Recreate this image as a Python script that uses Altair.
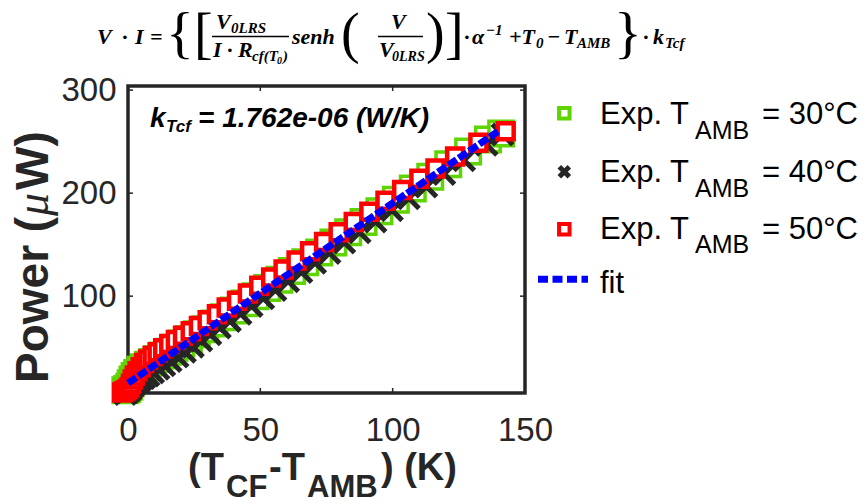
import altair as alt
import pandas as pd

# ---------------- data ----------------
grn_dt = [-1.0, -0.3, 0.5, 1.0, 1.7, 2.5, 3.5, 4.7, 6.0, 7.5, 9.2, 11.0, 13.0, 15.2, 17.6, 20.2,
          23.0, 26.0, 29.2, 32.6, 36.2, 40.0, 44.0, 48.2, 52.6, 57.2, 62.0, 67.0, 72.2,
          77.6, 83.2, 89.0, 95.0, 101.2, 107.6, 114.2, 121.0, 128.5, 136.0, 141.0]
grn_p = [8.7, 10.0, 12.0, 15.5, 19.0, 22.5, 25.5, 28.5, 31.0, 33.5, 36.0, 39.0, 42.5, 46.0, 50.0, 54.0,
         58.5, 63.0, 68.0, 73.5, 79.5, 86.0, 93.0, 100.0, 108.0, 116.0, 124.5, 133.0, 142.5,
         152.0, 162.0, 172.0, 182.5, 193.5, 204.5, 216.0, 228.0, 240.5, 252.0, 258.0]

blk_dt = [-1.0, 0.0, 0.9, 1.6, 2.5, 3.5, 4.7, 6.1, 7.7, 9.5, 11.5, 13.7, 16.1, 18.7, 21.5, 24.5,
          27.7, 31.1, 34.7, 38.5, 42.5, 46.7, 51.1, 55.7, 60.5, 65.5, 70.7, 76.1, 81.7,
          87.5, 93.5, 99.7, 106.1, 112.7, 119.5, 127.0, 135.5, 141.5]
blk_p = [5.0, 7.0, 9.0, 11.5, 14.0, 16.5, 18.5, 20.5, 23.0, 26.0, 29.5, 33.0, 37.0, 41.5, 46.0, 51.0,
         57.0, 63.0, 69.5, 76.0, 83.0, 90.5, 98.0, 106.0, 114.5, 123.5, 132.5, 142.0, 152.0,
         162.0, 172.5, 183.5, 195.0, 206.5, 218.5, 232.0, 247.0, 257.0]

red_dt = [-2.2, -1.5, -0.8, 0.0, 0.6, 1.1, 1.8, 2.6, 3.6, 4.8, 6.1, 7.6, 9.3, 11.2, 13.3, 15.6,
          18.1, 20.8, 23.7, 26.8, 30.1, 33.6, 37.3, 41.2, 45.3, 49.6, 54.1, 58.8, 63.7,
          68.8, 74.1, 79.6, 85.3, 91.2, 97.3, 103.6, 110.1, 116.2, 123.6, 132.4, 142.7]
red_p = [6.5, 7.5, 8.5, 10.0, 11.5, 15.0, 19.0, 23.0, 27.0, 31.0, 35.0, 38.5, 42.0, 45.5, 49.5, 53.5,
         57.5, 61.5, 66.0, 71.0, 76.5, 82.5, 89.0, 95.5, 102.5, 110.0, 118.0, 126.0, 134.5,
         143.5, 152.5, 162.0, 172.0, 182.0, 192.5, 203.0, 214.0, 224.0, 235.5, 249.0, 260.0]

fit_dt = [0.0, 140.4]
fit_p = [15.5, 261.0]

x_ticks = [0, 50, 100, 150]
y_ticks = [100, 200, 300]
x_inner_ticks = [50, 100]

series_names = ["Exp. T", "Exp. T", "Exp. T"]
series_subs = ["AMB", "AMB", "AMB"]
series_tail = ["= 30°C", "= 40°C", "= 50°C"]
fit_name = "fit"
k_text = ["k", "Tcf", "= 1.762e-06 (W/K)"]

# ---------------- layout constants ----------------
W, H = 397, 307
X0, Y0 = 128, 86          # plot-area origin in the page
SANS = "Liberation Sans"
SERIF = "Liberation Serif"
INK = "#262626"
GREEN = "#5ED400"
RED = "#FF0000"
BLUE = "#0000FF"

xs = alt.Scale(domain=[0, 150], nice=False, zero=False)
ys = alt.Scale(domain=[6, 304], nice=False, zero=False)

XMARK = "M-1,-1L1,1M-1,1L1,-1"


def df(xv, yv):
    return pd.DataFrame({"x": xv, "y": yv})


def txt(s, x, y, size, weight="normal", style="normal", font=SANS, angle=0,
        baseline="alphabetic", color="black", align="left"):
    return alt.Chart(pd.DataFrame({"s": [s]})).mark_text(
        align=align, baseline=baseline, font=font, fontSize=size,
        fontWeight=weight, fontStyle=style, angle=angle, color=color
    ).encode(x=alt.value(x - X0), y=alt.value(y - Y0), text="s:N")


def hrule(x1, x2, y, width=1.5, color="black", dash=None):
    kw = dict(strokeWidth=width, color=color)
    if dash:
        kw["strokeDash"] = dash
    return alt.Chart(pd.DataFrame({"a": [0]})).mark_rule(**kw).encode(
        x=alt.value(x1 - X0), x2=alt.value(x2 - X0), y=alt.value(y - Y0))


xaxis = alt.Axis(values=x_ticks, title=None, ticks=False, domain=False, grid=False,
                 labelFont=SANS, labelFontSize=33, labelColor=INK, labelPadding=21,
                 labelFlush=False)
yaxis = alt.Axis(values=y_ticks, title=None, ticks=False, domain=False, grid=False,
                 labelFont=SANS, labelFontSize=33, labelColor=INK, labelPadding=12,
                 labelBaseline="middle")

base_x = alt.X("x:Q", scale=xs, axis=xaxis)
base_y = alt.Y("y:Q", scale=ys, axis=yaxis)

green = alt.Chart(df(grn_dt, grn_p)).mark_point(
    shape="square", size=600, filled=False, fill="white", fillOpacity=1,
    stroke=GREEN, strokeWidth=3.5, opacity=1).encode(x=base_x, y=base_y)

black = alt.Chart(df(blk_dt, blk_p)).mark_point(
    shape=XMARK, size=420, filled=False, stroke=INK, strokeWidth=5, opacity=1
).encode(x=alt.X("x:Q", scale=xs), y=alt.Y("y:Q", scale=ys))

red = alt.Chart(df(red_dt, red_p)).mark_point(
    shape="square", size=256, filled=False, fill="white", fillOpacity=1,
    stroke=RED, strokeWidth=4.5, opacity=1
).encode(x=alt.X("x:Q", scale=xs), y=alt.Y("y:Q", scale=ys))

fit = alt.Chart(df(fit_dt, fit_p)).mark_line(
    color=BLUE, strokeWidth=7, strokeDash=[10, 2.5], strokeCap="butt"
).encode(x=alt.X("x:Q", scale=xs), y=alt.Y("y:Q", scale=ys))

# inward ticks on all four sides
tk_top = alt.Chart(pd.DataFrame({"x": x_inner_ticks})).mark_rule(color=INK, strokeWidth=1.5).encode(
    x=alt.X("x:Q", scale=xs), y=alt.value(0), y2=alt.value(5))
tk_bot = alt.Chart(pd.DataFrame({"x": x_inner_ticks})).mark_rule(color=INK, strokeWidth=1.5).encode(
    x=alt.X("x:Q", scale=xs), y=alt.value(H - 5), y2=alt.value(H))
tk_left = alt.Chart(pd.DataFrame({"y": y_ticks})).mark_rule(color=INK, strokeWidth=1.5).encode(
    y=alt.Y("y:Q", scale=ys), x=alt.value(0), x2=alt.value(5))
tk_right = alt.Chart(pd.DataFrame({"y": y_ticks})).mark_rule(color=INK, strokeWidth=1.5).encode(
    y=alt.Y("y:Q", scale=ys), x=alt.value(W - 5), x2=alt.value(W))

layers = [green, black, red, fit, tk_top, tk_bot, tk_left, tk_right]

# annotation inside the axes
layers += [
    txt(k_text[0], 150, 127, 28, "bold", "italic"),
    txt(k_text[1], 166, 132, 17, "bold", "italic"),
    txt(k_text[2], 198, 127, 28, "bold", "italic"),
]

# x-axis title with subscripts
layers += [
    txt("(T", 188, 480, 38, "bold", color=INK),
    txt("CF", 226, 497, 31, "bold", color=INK),
    txt("-T", 269, 480, 38, "bold", color=INK),
    txt("AMB", 307, 497, 31, "bold", color=INK),
    txt(") (K)", 381, 480, 38, "bold", color=INK),
]

# y-axis title (rotated)
layers += [
    txt("Power (", 34, 383, 46, "bold", angle=270, baseline="middle", color=INK),
    txt("μ", 34, 216, 46, "normal", "italic", font=SERIF, angle=270, baseline="middle", color=INK),
    txt("W)", 34, 190, 46, "bold", angle=270, baseline="middle", color=INK),
]

# legend
row_mark_y = [113.3, 171.7, 229.3]
row_base = [124.0, 182.0, 238.5]
leg_rows = [(GREEN, "square"), (INK, XMARK), (RED, "square")]
for i in range(3):
    col, shp = leg_rows[i]
    if shp == "square":
        mk = alt.Chart(pd.DataFrame({"a": [0]})).mark_point(
            shape="square", size=110, filled=False, fill="white", fillOpacity=1,
            stroke=col, strokeWidth=4, opacity=1)
    else:
        mk = alt.Chart(pd.DataFrame({"a": [0]})).mark_point(
            shape=XMARK, size=100, filled=False, stroke=col, strokeWidth=5, opacity=1)
    layers.append(mk.encode(x=alt.value(564.3 - X0), y=alt.value(row_mark_y[i] - Y0)))
    layers.append(txt(series_names[i], 600, row_base[i], 31))
    layers.append(txt(series_subs[i], 695, row_base[i] + 14.5, 25))
    layers.append(txt(series_tail[i], 762, row_base[i], 31))
layers.append(hrule(538, 588, 279.3, width=7, color=BLUE, dash=[10, 4.5]))
layers.append(txt(fit_name, 600, 293, 31))

# equation on top
EQ = 22
SUB = 15
BI = dict(weight="bold", style="italic", font=SERIF)
layers += [
    txt("V", 97, 44, EQ, **BI),
    txt("·", 122, 44, EQ, **BI),
    txt("I", 135, 44, EQ, **BI),
    txt("=", 150, 44, EQ, **BI),
    txt("{", 166, 52, 58, font=SERIF),
    txt("[", 194, 52, 56, font=SERIF),
    txt("V", 216, 29, EQ, **BI),
    txt("0LRS", 231, 33, SUB, **BI),
    hrule(212, 289, 36.5),
    txt("I · R", 213, 57, EQ, **BI),
    txt("cf(T", 252, 61, SUB, **BI),
    txt("0", 277, 64, 10, **BI),
    txt(")", 283, 61, SUB, **BI),
    txt("senh", 292, 44, EQ, **BI),
    txt("(", 341, 52, 56, font=SERIF),
    txt("V", 391, 29, EQ, **BI),
    hrule(378, 423, 36.5),
    txt("V", 379, 57, EQ, **BI),
    txt("0LRS", 392, 61, 14, **BI),
    txt(")", 426, 52, 56, font=SERIF),
    txt("]", 445, 52, 56, font=SERIF),
    txt("·", 464, 44, EQ, **BI),
    txt("α", 472, 44, EQ, **BI),
    txt("−1", 486, 35, SUB, **BI),
    txt("+T", 509, 44, EQ, **BI),
    txt("0", 536, 48, SUB, **BI),
    txt("−", 547, 44, EQ, **BI),
    txt("T", 564, 44, EQ, **BI),
    txt("AMB", 577, 48, SUB, **BI),
    txt("}", 614, 52, 58, font=SERIF),
    txt("·", 643, 44, EQ, **BI),
    txt("k", 653, 44, EQ, **BI),
    txt("Tcf", 665, 48, SUB, **BI),
]

chart = alt.layer(*layers).properties(
    width=W, height=H,
    autosize=alt.AutoSizeParams(type="none"),
    padding={"left": X0, "top": Y0, "right": 866 - X0 - W, "bottom": 504 - Y0 - H},
    background="white",
).configure_view(stroke=INK, strokeWidth=3.5)

chart.save("out.html", embed_options={"renderer": "svg", "actions": False})
